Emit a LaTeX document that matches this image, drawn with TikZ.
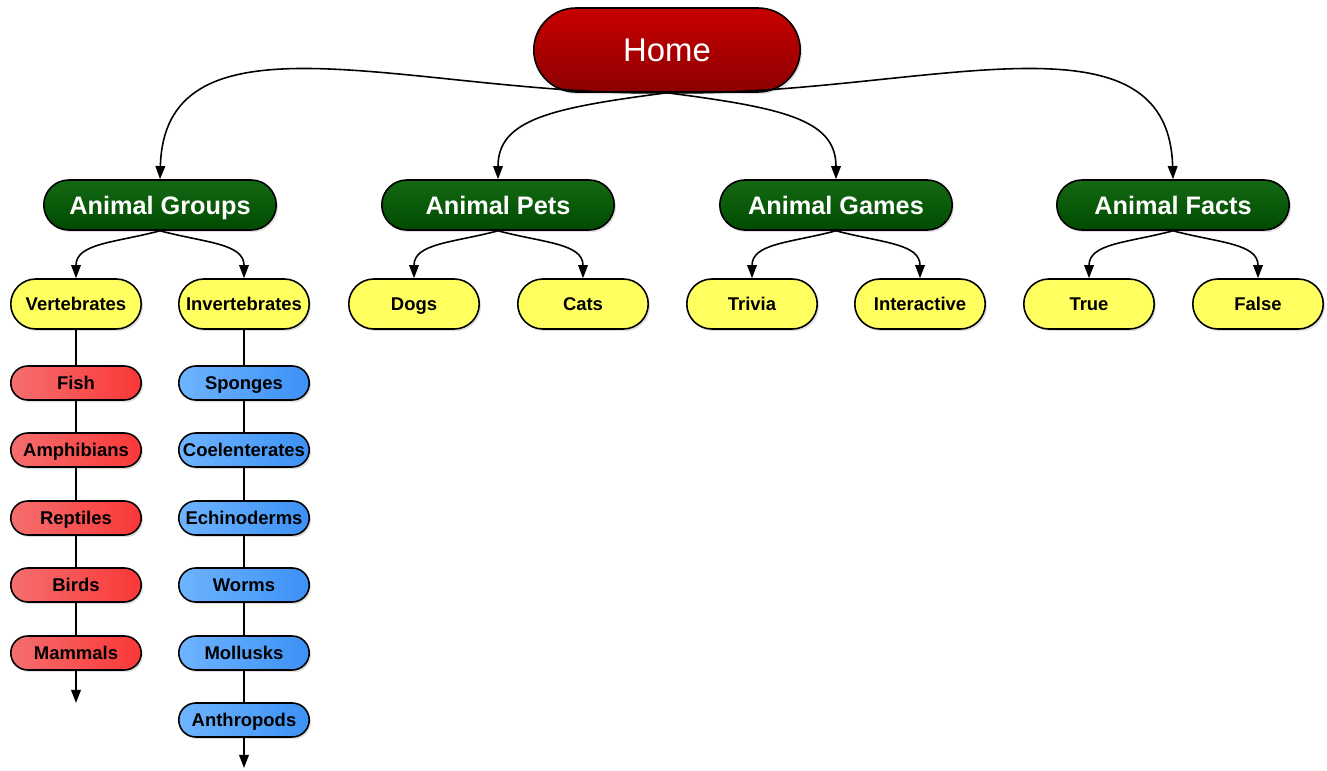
\documentclass[tikz,border=0pt]{standalone}
\usepackage{fontspec}
\setmainfont{Liberation Sans}
\usetikzlibrary{shapes.misc,arrows.meta,shadows}
\definecolor{homered}{RGB}{200,0,0}
\definecolor{homedark}{RGB}{140,0,0}
\definecolor{groupgreen}{RGB}{20,105,20}
\definecolor{groupdark}{RGB}{0,75,0}
\definecolor{leafyellow}{RGB}{255,255,95}
\definecolor{vertlight}{RGB}{245,110,110}
\definecolor{vertred}{RGB}{250,55,55}
\definecolor{invlight}{RGB}{110,180,255}
\definecolor{invblue}{RGB}{60,145,245}
\tikzset{
  box/.style={rounded rectangle, draw=black, line width=0.9pt, inner sep=1pt,
    drop shadow={shadow xshift=1pt, shadow yshift=-1.2pt, opacity=0.25}},
  homebox/.style={box, top color=homered, bottom color=homedark, text=white,
    minimum width=5.4cm, minimum height=1.68cm, text height=17.2pt, text depth=3.7pt,
    font=\fontsize{18.7}{22}\selectfont},
  groupbox/.style={box, top color=groupgreen, bottom color=groupdark, text=white,
    minimum width=4.72cm, minimum height=1cm, text height=13.2pt, text depth=2.9pt,
    font=\fontsize{14.4}{17}\selectfont\bfseries},
  smallbox/.style={box, minimum width=2.68cm, text height=9.7pt, text depth=2.1pt,
    font=\fontsize{10.5}{12}\selectfont\bfseries},
  leafbox/.style={smallbox, fill=leafyellow, minimum height=1cm},
  vertbox/.style={smallbox, left color=vertlight, right color=vertred, minimum height=0.68cm},
  invbox/.style={smallbox, left color=invlight, right color=invblue, minimum height=0.68cm}
}
\begin{document}
\begin{tikzpicture}
[x=0.02cm, y=-0.02cm, line width=0.9pt, color=black,
 >={Triangle[length=7.5pt,width=5.5pt]}]
\useasboundingbox (0,0) rectangle (1327,770);
  % top level
  \node [homebox] (home) at (667,50) {Home};
  \node [groupbox] (groups) at (160,205) {Animal Groups};
  \node [groupbox] (pets) at (498,205) {Animal Pets};
  \node [groupbox] (games) at (836,205) {Animal Games};
  \node [groupbox] (facts) at (1173,205) {Animal Facts};
  % second level
  \node [leafbox] (vert) at (76,304) {Vertebrates};
  \node [leafbox] (invert) at (244,304) {Invertebrates};
  \node [leafbox] (dogs) at (414,304) {Dogs};
  \node [leafbox] (cats) at (583,304) {Cats};
  \node [leafbox] (trivia) at (752,304) {Trivia};
  \node [leafbox] (inter) at (920,304) {Interactive};
  \node [leafbox] (true) at (1089,304) {True};
  \node [leafbox] (false) at (1258,304) {False};
  % vertebrates
  \node [vertbox] (fish) at (76,383) {Fish};
  \node [vertbox] (amph) at (76,450) {Amphibians};
  \node [vertbox] (rept) at (76,518) {Reptiles};
  \node [vertbox] (birds) at (76,585) {Birds};
  \node [vertbox] (mamm) at (76,653) {Mammals};
  \coordinate (vend) at (76,703);
  % invertebrates
  \node [invbox] (spong) at (244,383) {Sponges};
  \node [invbox] (coel) at (244,450) {Coelenterates};
  \node [invbox] (echi) at (244,518) {Echinoderms};
  \node [invbox] (worms) at (244,585) {Worms};
  \node [invbox] (moll) at (244,653) {Mollusks};
  \node [invbox] (anth) at (244,720) {Anthropods};
  \coordinate (iend) at (244,768);
  % connectors
  \draw [->] (home.south) .. controls (420,97) and (165,0) .. (groups.north);
  \draw [->] (home.south) .. controls (914,97) and (1168,0) .. (facts.north);
  \draw [->] (home.south) .. controls +(-115,15) and +(0,-60) .. (pets.north);
  \draw [->] (home.south) .. controls +(115,15) and +(0,-60) .. (games.north);
  \foreach \from/\to/\dx in {groups/vert/-45,groups/invert/45,pets/dogs/-45,pets/cats/45,
    games/trivia/-45,games/inter/45,facts/true/-45,facts/false/45}
  \draw [->] (\from.south) .. controls +(\dx,12) and +(0,-35) .. (\to.north);
  \foreach \from/\to in {vert/fish,fish/amph,amph/rept,rept/birds,birds/mamm,
    invert/spong,spong/coel,coel/echi,echi/worms,worms/moll,moll/anth}
  \draw (\from.south) -- (\to.north);
  \draw [->] (mamm.south) -- (vend);
  \draw [->] (anth.south) -- (iend);
\end{tikzpicture}
\end{document}
